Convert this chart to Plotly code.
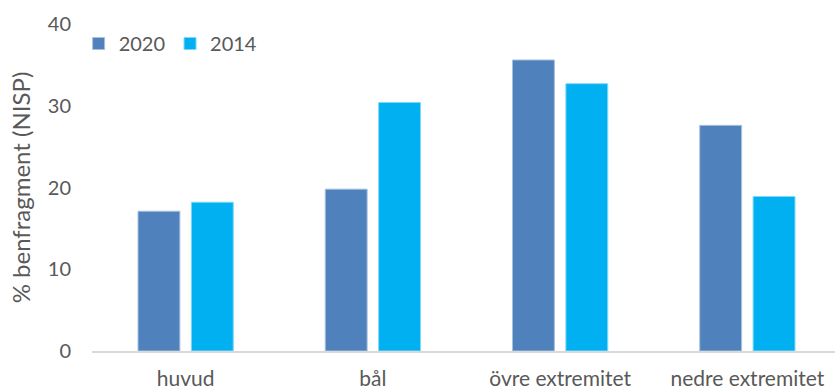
import plotly.graph_objects as go

categories = ["huvud", "bål", "övre extremitet", "nedre extremitet"]
values_2020 = [17.1, 19.8, 35.6, 27.6]
values_2014 = [18.2, 30.4, 32.7, 18.9]
series_names = ["2020", "2014"]
colors = ["#4F81BD", "#00B0F0"]
edge_colors = ["#A7C0DE", "#80D8F8"]

fig = go.Figure()
for name, vals, c, e in zip(series_names, [values_2020, values_2014], colors, edge_colors):
    fig.add_trace(go.Bar(x=categories, y=vals, name=name,
                         marker=dict(color=c, line=dict(color=e, width=1))))

font_family = "Lato, Open Sans, sans-serif"
fig.update_layout(
    width=835, height=392,
    margin=dict(l=92, r=0, t=24, b=41),
    paper_bgcolor="white", plot_bgcolor="white",
    barmode="group", bargap=0.43, bargroupgap=0.215,
    font=dict(family=font_family, color="#595959", size=20),
    legend=dict(orientation="h", x=-0.018, y=1.0, xanchor="left", yanchor="top",
                font=dict(size=20, color="#595959"), itemwidth=30,
                bgcolor="rgba(0,0,0,0)", tracegroupgap=0),
    showlegend=True,
    xaxis=dict(showline=True, linecolor="#D9D9D9", linewidth=2, ticks="",
               showgrid=False, tickfont=dict(size=21, color="#595959"),
               ticklabelstandoff=8, range=[-0.5, 3.468], automargin=False),
    yaxis=dict(range=[0, 40], dtick=10, showgrid=False, zeroline=False,
               showline=False, ticks="", ticklabelstandoff=20, automargin=False,
               tickfont=dict(size=20, color="#595959"),
               title=dict(text="% benfragment (NISP)", font=dict(size=24, color="#595959"),
                          standoff=10)),
)
fig.write_html("out.html")
